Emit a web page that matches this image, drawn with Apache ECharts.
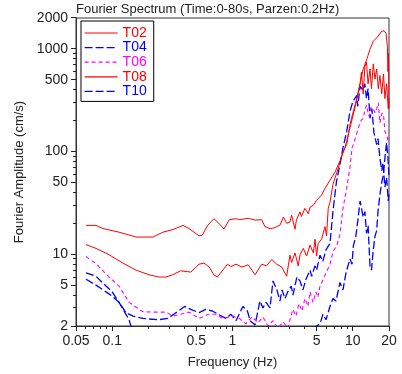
<!DOCTYPE html>
<html>
<head>
<meta charset="utf-8">
<script src="https://cdn.jsdelivr.net/npm/echarts@6/dist/echarts.min.js"></script>
<style>html,body{margin:0;padding:0;background:#fff;}#c{width:402px;height:374px;}</style>
</head>
<body>
<div id="c"></div>
<script>
// ---- data (frequency in Hz, Fourier amplitude in cm/s) ----
const seriesNames = ['T02', 'T04', 'T06', 'T08', 'T10'];
const xTicks = [0.05, 0.1, 0.5, 1, 5, 10, 20];
const xMinorTicks = [0.06, 0.07, 0.08, 0.09, 0.2, 0.3, 0.4, 0.6, 0.7, 0.8, 0.9, 2, 3, 4, 6, 7, 8, 9];
const yTicks = [2, 5, 10, 50, 100, 500, 1000, 2000];
const yMinorTicks = [3, 4, 6, 7, 8, 9, 20, 30, 40, 60, 70, 80, 90, 200, 300, 400, 600, 700, 800, 900];

const t02F = [0.0606, 0.0733, 0.0838, 0.114, 0.158, 0.218, 0.264, 0.32, 0.388, 0.435, 0.527, 0.56, 0.62, 0.70, 0.77, 0.85, 0.94, 1.07,
  1.15, 1.35, 1.54, 1.75, 1.86, 2.05, 2.26, 2.48, 2.65, 2.82, 3.0, 3.1, 3.31, 3.4, 3.64, 3.74, 4.0, 4.27, 4.41, 4.7, 5.0, 5.5, 5.87, 6.46,
  7.11, 7.82, 8.61, 9.47, 10.4, 11.5, 12.2, 13.1, 13.9, 14.8, 15.9, 17.4, 18.2, 18.9, 19.4, 19.6, 19.8, 20];
const t02A = [19.1, 19.1, 17.8, 16.4, 14.7, 14.7, 16.4, 17.4, 19.1, 17.8, 15.1, 15.3, 19, 22.2, 20, 17.6, 21.7, 22.2,
  21.7, 22.4, 21.5, 21.7, 18.6, 17.7, 18.2, 19.2, 23, 20, 20.6, 24, 17.5, 21.5, 25.9, 23.3, 28, 24.8, 28.8, 30, 33.6, 37.7, 43.7, 52.6,
  63, 81, 109, 170, 265, 458, 637, 797, 991, 1190, 1290, 1487, 1500, 1420, 1050, 600, 900, 262];

const t04F = [0.0606, 0.0733, 0.0888, 0.1, 0.114, 0.13, 0.149, 0.18, 0.24, 0.29, 0.355, 0.40, 0.45, 0.527, 0.60, 0.68, 0.76, 0.88, 0.97, 1.07,
  1.22, 1.33, 1.40, 1.54, 1.69, 1.79, 1.90, 2.05, 2.17, 2.34, 2.48, 2.58, 2.73, 2.88, 3.08, 3.18, 3.43, 3.64, 3.85, 4.08, 4.41, 4.55, 4.85, 5.0,
  5.34, 5.63, 6.0, 6.46, 6.84, 7.3, 7.82, 8.29, 8.9, 9.47, 10.0, 10.8, 11.0, 11.5, 12.2, 12.6, 13.0, 13.4, 13.9, 14.4, 15.0, 15.8, 16.2, 16.8,
  17.4, 17.8, 18.5, 19.1, 19.7, 20];
const t04A = [5.7, 5.0, 4.3, 3.9, 3.4, 2.7, 2.5, 2.37, 2.3, 2.37, 2.8, 3.1, 2.9, 2.7, 2.9, 2.8, 2.6, 2.37, 2.6, 2.25,
  3.1, 2.8, 2.25, 2.05, 3.5, 3.0, 3.4, 3.0, 5.5, 4.5, 3.5, 4.5, 3.7, 4.3, 4.9, 4.0, 6.0, 5.5, 4.5, 5.7, 7.0, 6.1, 7.7, 7.0,
  9.8, 8.5, 11.1, 12.7, 26, 50, 75, 109, 157, 245, 306, 352, 275, 430, 396, 458, 328, 410, 211, 262, 152, 117, 134, 87,
  65, 78, 45, 56, 33, 40];

const t06F = [0.0606, 0.0733, 0.094, 0.114, 0.138, 0.179, 0.214, 0.28, 0.32, 0.366, 0.435, 0.527, 0.626, 0.729, 0.83, 1.01,
  1.15, 1.29, 1.45, 1.63, 1.79, 1.97, 2.17, 2.39, 2.63, 2.89, 3.0, 3.18, 3.37, 3.57, 3.78, 4.0, 4.24, 4.41, 4.67, 4.94, 5.13, 5.34, 5.65,
  5.99, 6.46, 6.84, 7.39, 7.82, 8.29, 8.78, 9.47, 9.85, 10.1, 10.6, 11.1, 11.7, 12.2, 12.6, 13.0, 13.6, 14.2, 14.8, 15.3, 15.8, 16.3,
  16.8, 17.5, 18.0, 18.5, 19.1, 19.7, 20];
const t06A = [9.5, 8.1, 6.0, 4.9, 3.4, 2.76, 2.73, 2.73, 2.5, 2.6, 2.73, 2.37, 2.6, 2.6, 2.37, 2.5,
  2.35, 2.1, 2.45, 2.15, 2.45, 2.0, 2.25, 1.9, 2.2, 1.9, 2.3, 2.9, 2.5, 3.3, 2.8, 3.7, 3.1, 4.3, 3.4, 4.3, 3.8, 4.9, 5.6,
  6.6, 7.9, 10.6, 12.3, 15.6, 28, 40, 70, 108, 117, 140, 170, 200, 211, 253, 283, 220, 270, 262, 238, 262, 300,
  190, 238, 227, 157, 146, 126, 135];

const t08F = [0.0606, 0.0733, 0.094, 0.1225, 0.158, 0.203, 0.245, 0.28, 0.318, 0.37, 0.45, 0.527, 0.58, 0.64, 0.70, 0.75, 0.83, 0.91, 0.97, 1.07,
  1.2, 1.35, 1.54, 1.75, 1.92, 2.12, 2.33, 2.57, 2.82, 2.89, 3.0, 3.1, 3.31, 3.52, 3.64, 3.88, 4.13, 4.41, 4.7, 4.85, 5.0, 5.15, 5.5, 5.87,
  6.05, 6.25, 6.46, 6.84, 7.39, 7.82, 8.29, 8.9, 9.47, 10.0, 10.8, 11.5, 11.8, 12.2, 12.6, 13.0, 13.4, 13.9, 14.3, 14.8, 15.3, 15.8, 16.3,
  16.8, 17.4, 18.0, 18.5, 19.1, 19.7, 20];
const t08A = [12.4, 11.4, 9.9, 8.2, 7.0, 6.3, 6.0, 6.0, 6.3, 6.9, 6.7, 8.0, 8.2, 7.5, 6.3, 6.0, 7.0, 8.0, 7.6, 8.0,
  7.5, 7.9, 6.3, 8.0, 7.7, 8.9, 8.0, 7.5, 6.1, 6.0, 9.8, 8.3, 10.3, 7.7, 9.9, 11.4, 9.6, 12.3, 10.3, 14, 9.6, 12.7, 14, 18.6,
  15.1, 28, 32, 48, 63, 78, 100, 117, 182, 236, 328, 458, 593, 365, 673, 739, 458, 637, 410, 715, 510, 637, 410,
  550, 365, 570, 328, 458, 262, 328];

const t10F = [0.0606, 0.0733, 0.0888, 0.1, 0.114, 0.13, 0.138, 0.145, 1.0, 4.6, 5.0, 5.34, 5.65, 5.99, 6.46, 6.84, 7.25, 7.82, 8.29, 8.78, 9.47,
  9.85, 10.1, 10.6, 11.0, 11.5, 11.8, 12.2, 12.6, 13.0, 13.4, 13.9, 14.3, 14.8, 15.3, 15.8, 16.2, 16.8, 17.4, 18.0, 18.5, 19.1, 19.6, 20];
const t10A = [6.6, 6.1, 4.9, 4.3, 3.4, 2.6, 2.3, 1.9, null, 1.9, 2.0, 2.1, 2.6, 2.3, 3.1, 3.7, 3.5, 5.3, 4.5, 6.6, 9.0,
  8.0, 12, 15, 21, 33, 34, 23, 26, 16, 19, 7.7, 7.0, 11, 15, 17, 26, 38, 50, 60, 87, 122, 87, 56];

// ---- build chart ----
const lg = Math.log10;
function pts(F, A) { return F.map((f, i) => [lg(f), A[i] == null ? '-' : lg(A[i])]); }
function fmt(v) { return String(+Math.pow(10, v).toPrecision(4)); }

const colors = ['#ff0000', '#0000ff', '#ff00ff', '#ff0000', '#0000ff'];
const dashes = ['solid', [8, 3], [4, 3], 'solid', [8, 3]];
const widths = [1, 1.3, 1.1, 1, 1.3];
const dataSets = [pts(t02F, t02A), pts(t04F, t04A), pts(t06F, t06A), pts(t08F, t08A), pts(t10F, t10A)];
const FONT = 'Liberation Sans, Arial, sans-serif';
const axisColor = '#333';
const tickColor = '#222';

const xMin = lg(xTicks[0]), xMax = lg(xTicks[xTicks.length - 1]);
const yMin = lg(yTicks[0]), yMax = lg(yTicks[yTicks.length - 1]);

// tick marks drawn through the axes' scales (custom series, positioned with api.coord)
function tickSeries(values, dir, len) {
  const data = values.map(v => dir === 'x' ? [lg(v), yMin] : [xMin, lg(v)]);
  return {
    type: 'custom', silent: true, clip: false, z: 10,
    encode: { x: 0, y: 1 },
    data: data,
    renderItem: function (params, api) {
      const p = api.coord([api.value(0), api.value(1)]);
      if (dir === 'x') {
        const x = Math.round(p[0] - 0.5) + 0.5;
        return { type: 'line', shape: { x1: x, y1: p[1], x2: x, y2: p[1] + len }, style: { stroke: tickColor, lineWidth: 1 } };
      }
      const y = Math.round(p[1] - 0.5) + 0.5;
      return { type: 'line', shape: { x1: p[0], y1: y, x2: p[0] - len, y2: y }, style: { stroke: tickColor, lineWidth: 1 } };
    }
  };
}

const chart = echarts.init(document.getElementById('c'), null, { renderer: 'canvas' });
chart.setOption({
  animation: false,
  backgroundColor: '#fff',
  title: {
    text: 'Fourier Spectrum (Time:0-80s, Parzen:0.2Hz)',
    left: 76, top: 3, padding: 0,
    textStyle: { fontSize: 13, fontWeight: 'normal', color: '#222', fontFamily: FONT }
  },
  grid: { left: 76, right: 13, top: 18, bottom: 43, show: true, borderColor: axisColor, borderWidth: 1, backgroundColor: 'transparent' },
  legend: {
    orient: 'vertical', left: 81, top: 21,
    itemWidth: 33, itemHeight: 13, itemGap: 0.6,
    padding: [5, 7, 3, 3],
    borderColor: '#000', borderWidth: 1, backgroundColor: '#fff',
    itemStyle: { opacity: 0, color: 'transparent', borderWidth: 0 },
    lineStyle: { width: 1.2 },
    textStyle: { fontSize: 14, fontFamily: FONT, lineHeight: 14 },
    data: seriesNames.map((n, i) => ({ name: n, textStyle: { color: colors[i] } }))
  },
  xAxis: {
    type: 'value', min: xMin, max: xMax, position: 'bottom',
    name: 'Frequency (Hz)', nameLocation: 'middle', nameGap: 30,
    nameTextStyle: { fontSize: 13, color: '#222', fontFamily: FONT },
    axisLine: { show: true, onZero: false, lineStyle: { color: axisColor } },
    axisTick: { show: false },
    axisLabel: { customValues: xTicks.map(lg), formatter: fmt, fontSize: 14, color: '#222', fontFamily: FONT, margin: 8 },
    splitLine: { show: false }
  },
  yAxis: {
    type: 'value', min: yMin, max: yMax, position: 'left',
    name: 'Fourier Amplitude (cm/s)', nameLocation: 'middle', nameGap: 45,
    nameTextStyle: { fontSize: 13, color: '#222', fontFamily: FONT },
    axisLine: { show: true, onZero: false, lineStyle: { color: axisColor } },
    axisTick: { show: false },
    axisLabel: { customValues: yTicks.map(lg), formatter: fmt, fontSize: 14, color: '#222', fontFamily: FONT, margin: 8 },
    splitLine: { show: false }
  },
  series: seriesNames.map((n, i) => ({
    name: n, type: 'line', data: dataSets[i],
    symbol: 'none', showSymbol: false, clip: true, connectNulls: false,
    lineStyle: { color: colors[i], width: widths[i], type: dashes[i] },
    itemStyle: { color: colors[i] },
    z: 2 + i
  })).concat([
    tickSeries(xTicks, 'x', 5), tickSeries(xMinorTicks, 'x', 3),
    tickSeries(yTicks, 'y', 5), tickSeries(yMinorTicks, 'y', 3)
  ])
});
</script>
</body>
</html>
